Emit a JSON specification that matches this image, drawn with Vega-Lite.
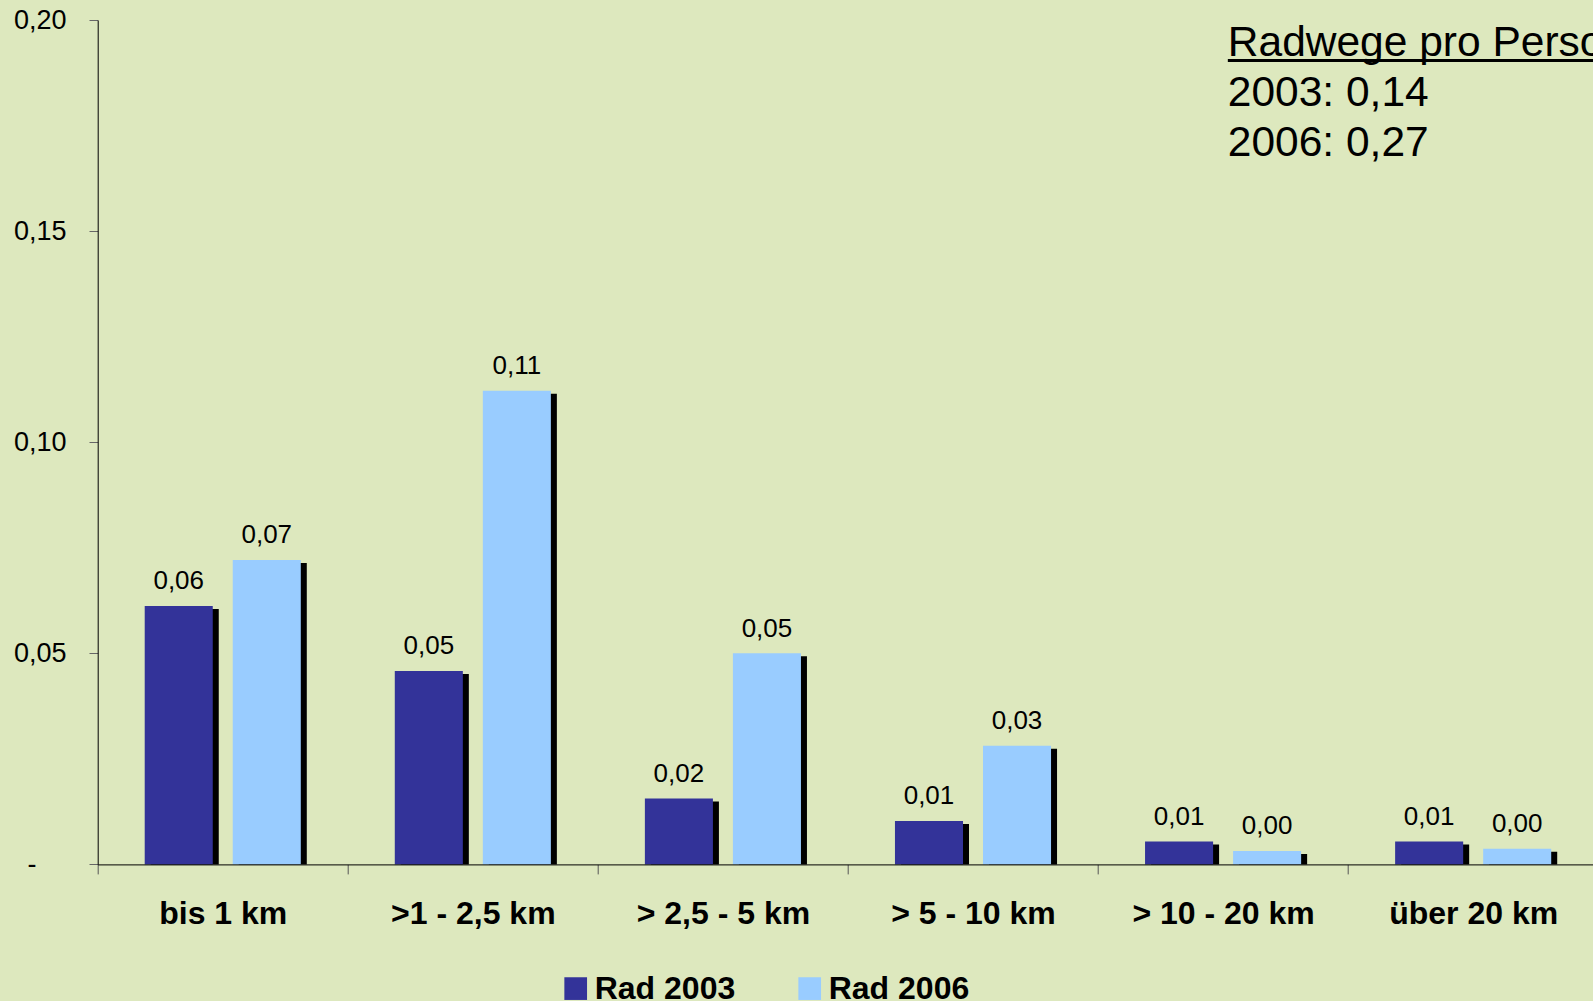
{
  "$schema": "https://vega.github.io/schema/vega-lite/v6.json",
  "width": 1495.3,
  "height": 844.4,
  "autosize": {"type": "none"},
  "padding": {"left": 97.7, "top": 20, "right": 0, "bottom": 136.6},
  "background": "#DDE8BE",
  "config": {
    "locale": {"number": {"decimal": ",", "thousands": ".", "grouping": [3], "currency": ["", " €"]}},
    "view": {"stroke": null},
    "font": "Liberation Sans"
  },
  "data": {"values": [
    {"cat": "bis 1 km", "series": "Rad 2003", "value": 0.0612},
    {"cat": "bis 1 km", "series": "Rad 2006", "value": 0.0721},
    {"cat": ">1 - 2,5 km", "series": "Rad 2003", "value": 0.0458},
    {"cat": ">1 - 2,5 km", "series": "Rad 2006", "value": 0.1122},
    {"cat": "> 2,5 - 5 km", "series": "Rad 2003", "value": 0.0156},
    {"cat": "> 2,5 - 5 km", "series": "Rad 2006", "value": 0.0500},
    {"cat": "> 5 - 10 km", "series": "Rad 2003", "value": 0.0103},
    {"cat": "> 5 - 10 km", "series": "Rad 2006", "value": 0.0281},
    {"cat": "> 10 - 20 km", "series": "Rad 2003", "value": 0.0054},
    {"cat": "> 10 - 20 km", "series": "Rad 2006", "value": 0.0032},
    {"cat": "über 20 km", "series": "Rad 2003", "value": 0.0054},
    {"cat": "über 20 km", "series": "Rad 2006", "value": 0.0037}
  ]},
  "layer": [
    {
      "resolve": {"scale": {"xOffset": "independent"}},
      "encoding": {
        "x": {
          "field": "cat", "type": "nominal", "sort": null,
          "scale": {"domain": ["bis 1 km", ">1 - 2,5 km", "> 2,5 - 5 km", "> 5 - 10 km", "> 10 - 20 km", "über 20 km"], "range": [0, 1500.5], "paddingInner": 0, "paddingOuter": 0},
          "axis": {
            "title": null, "tickBand": "extent", "labelAngle": 0, "labelFont": "Liberation Sans", "labelFontSize": 32, "labelFontWeight": "bold",
            "labelColor": "#000000", "labelBaseline": "alphabetic", "labelPadding": 49.6, "tickSize": 9.5, "tickColor": "#555555",
            "domainColor": "#000000", "domainWidth": 1, "labelLimit": 400, "labelOverlap": false, "zindex": 1
          }
        },
        "y": {
          "field": "value", "type": "quantitative",
          "scale": {"domain": [0, 0.2], "nice": false},
          "axis": {
            "title": null, "values": [0, 0.05, 0.1, 0.15, 0.2], "format": ".2f", "labelExpr": "datum.value == 0 ? '-' : datum.label",
            "grid": false, "domainColor": "#000000", "domainWidth": 1, "tickColor": "#666666", "tickSize": 8.7,
            "labelFont": "Liberation Sans", "labelFontSize": 27, "labelColor": "#000000",
            "labelPadding": {"condition": {"test": "datum.value == 0", "value": 53}, "value": 23}, "zindex": 1
          }
        }
      },
      "layer": [
        {
          "mark": {"type": "bar", "color": "#000000", "yOffset": 3, "y2": "height"},
          "encoding": {
            "xOffset": {"field": "series", "type": "nominal", "sort": null, "scale": {"type": "band", "domain": ["Rad 2003", "Rad 2006"], "range": [6, 256.1], "paddingInner": 0.227, "paddingOuter": 0.534}}
          }
        },
        {
          "mark": {"type": "bar"},
          "encoding": {
            "xOffset": {"field": "series", "type": "nominal", "sort": null, "scale": {"type": "band", "domain": ["Rad 2003", "Rad 2006"], "range": [0, 250.1], "paddingInner": 0.227, "paddingOuter": 0.534}},
            "color": {
              "field": "series", "type": "nominal",
              "scale": {"domain": ["Rad 2003", "Rad 2006"], "range": ["#333399", "#99CCFF"]},
              "legend": {
                "title": null, "orient": "none", "legendX": 462, "legendY": 952.6, "direction": "horizontal",
                "symbolType": "square", "symbolSize": 515, "symbolStrokeWidth": 0, "symbolOpacity": 1,
                "labelFont": "Liberation Sans", "labelFontWeight": "bold", "labelFontSize": 32, "labelColor": "#000000",
                "labelOffset": 3, "columnPadding": 58, "padding": 0, "labelLimit": 400
              }
            }
          }
        },
        {
          "mark": {"type": "text", "dy": -16.7, "baseline": "alphabetic", "align": "center", "fontSize": 26, "font": "Liberation Sans", "color": "#000000"},
          "encoding": {
            "xOffset": {"field": "series", "type": "nominal", "sort": null, "scale": {"type": "band", "domain": ["Rad 2003", "Rad 2006"], "range": [0, 250.1], "paddingInner": 0.227, "paddingOuter": 0.534}},
            "text": {"field": "value", "type": "quantitative", "format": ".2f"}
          }
        }
      ]
    },
    {
      "data": {"values": [{}]},
      "mark": {"type": "text", "text": ["Radwege pro Person", "2003: 0,14", "2006: 0,27"], "lineHeight": 50, "fontSize": 42.5, "align": "left", "baseline": "alphabetic", "font": "Liberation Sans", "color": "#000000"},
      "encoding": {
        "x": {"datum": "> 10 - 20 km", "type": "nominal", "bandPosition": 0.519},
        "y": {"datum": 0.1914, "type": "quantitative"}
      }
    },
    {
      "data": {"values": [{}]},
      "mark": {"type": "rule", "color": "#000000", "strokeWidth": 3},
      "encoding": {
        "x": {"datum": "> 10 - 20 km", "type": "nominal", "bandPosition": 0.519},
        "x2": {"datum": "über 20 km", "bandPosition": 1},
        "y": {"datum": 0.1904, "type": "quantitative"}
      }
    }
  ]
}
